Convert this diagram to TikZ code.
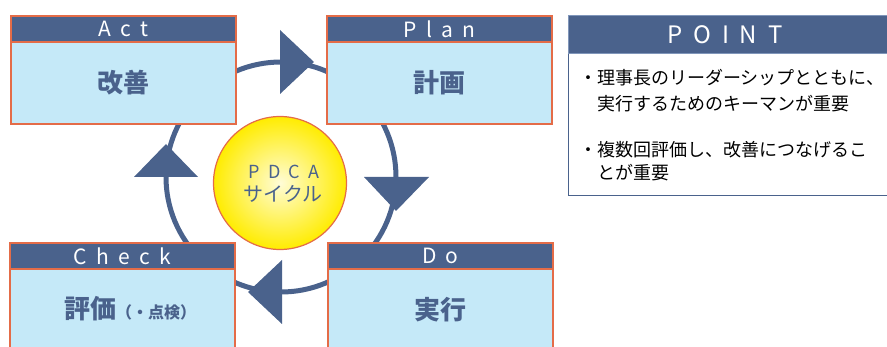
\documentclass[tikz,border=0pt]{standalone}
\usepackage{fontspec}
\setmainfont{Noto Sans CJK JP}
\newfontfamily\spaced[LetterSpace=45]{Noto Sans CJK JP}
\definecolor{hdr}{RGB}{74,98,140}
\definecolor{hdrline}{RGB}{128,150,186}
\definecolor{bodyc}{RGB}{197,233,248}
\definecolor{orng}{RGB}{228,108,72}
\definecolor{ringc}{RGB}{74,98,140}
\definecolor{sunyellow}{RGB}{255,236,0}
\definecolor{sunpale}{RGB}{255,252,215}
\tikzset{
  hdrbox/.style={draw=orng, line width=1.8, fill=hdr, text=white, inner sep=0, anchor=north west,
    minimum width=225, minimum height=26, font=\spaced\fontsize{21}{21}\selectfont},
  bodybox/.style={draw=orng, line width=1.8, fill=bodyc, text=hdr, inner sep=0, anchor=north west,
    minimum width=225, minimum height=82, font=\bfseries\fontsize{26}{26}\selectfont},
  arrowhead/.style={fill=ringc, draw=none},
  pointtxt/.style={anchor=west, inner sep=0, text=black, font=\fontsize{18}{18}\selectfont}
}
\begin{document}
\begin{tikzpicture}[x=1pt,y=-1pt]
\useasboundingbox (0,0) rectangle (887,347);
\clip (0,0) rectangle (887,347);
% ring
\coordinate (rc) at (281,177);
\draw[ringc, line width=5] (rc) circle (115);
% boxes
\node[bodybox] (actb) at (10,41) {改善};
\node[hdrbox] (acth) at (10,15) {Act};
\node[bodybox] (planb) at (326,41) {計画};
\node[hdrbox] (planh) at (326,15) {Plan};
\node[bodybox, minimum height=84] (checkb) at (9,267) {};
\node[text=hdr, inner sep=0, font=\bfseries\fontsize{26}{26}\selectfont] (checkt) at (130,309)
  {評価{\fontsize{16}{16}\selectfont （・点検）}};
\node[hdrbox] (checkh) at (9,242) {Check};
\node[bodybox, minimum height=84] (dob) at (327,267) {実行};
\node[hdrbox] (doh) at (327,242) {Do};
% arrowheads
\fill[arrowhead] (280,30) -- (314,62) -- (280,94) -- cycle;
\fill[arrowhead] (364,177) -- (429,177) -- (396,211) -- cycle;
\fill[arrowhead] (282,260) -- (282,324) -- (248,292) -- cycle;
\fill[arrowhead] (134,177) -- (198,177) -- (166,144) -- cycle;
% center circle
\node[circle, minimum size=133, inner sep=0, draw=orng, line width=1.2,
      inner color=sunpale, outer color=sunyellow] (pdca) at (280,183) {};
\node[text=hdr, inner sep=0] (pdcat) at (284,172) {\spaced\fontsize{18}{18}\selectfont PDCA};
\node[text=hdr, inner sep=0] (cyclet) at (283,194) {\fontsize{20}{20}\selectfont サイクル};
% POINT box
\node[draw=hdr, line width=1.2, fill=white, anchor=north west, inner sep=0,
      minimum width=330, minimum height=142] (pointb) at (568,53) {};
\node[draw=hdrline, line width=1, fill=hdr, anchor=north west, inner sep=0,
      minimum width=330, minimum height=38] (pointh) at (568,15) {};
\node[text=white, inner sep=0, font=\spaced\fontsize{24}{24}\selectfont] (pointt) at (725,35) {POINT};
\node[pointtxt] (l1) at (579,78) {・理事長のリーダーシップとともに、};
\node[pointtxt] (l2) at (597,104) {実行するためのキーマンが重要};
\node[pointtxt] (l3) at (579,150) {・複数回評価し、改善につなげるこ};
\node[pointtxt] (l4) at (597,173) {とが重要};
\end{tikzpicture}
\end{document}
